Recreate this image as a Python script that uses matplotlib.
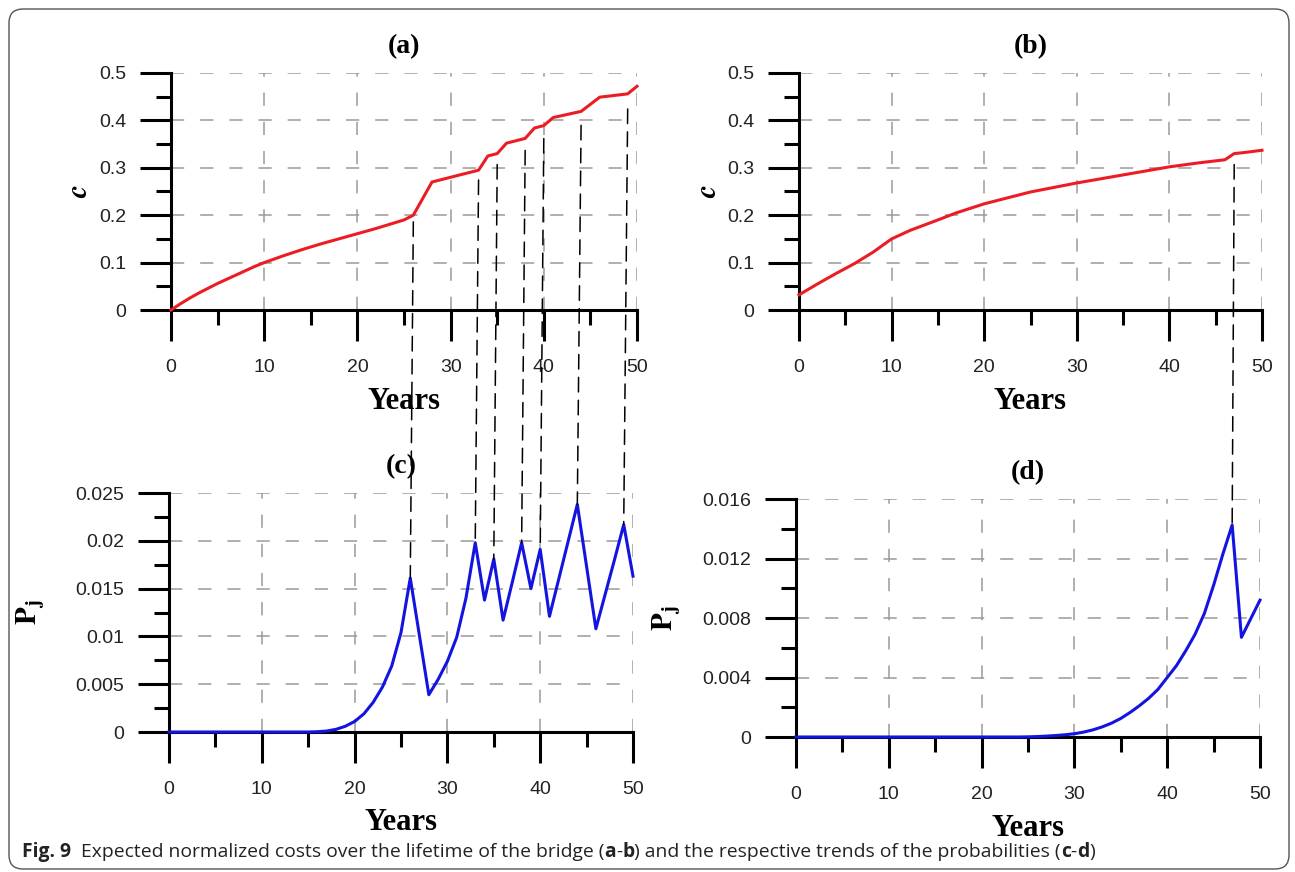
import numpy as np
import matplotlib
matplotlib.use("Agg")
import matplotlib.pyplot as plt
from matplotlib import ticker
from matplotlib.patches import ConnectionPatch, FancyBboxPatch
from matplotlib.transforms import IdentityTransform

# ---- data ----
years_a = [0, 1, 2, 3, 4, 5, 6, 7, 8, 9, 10, 12, 14, 16, 18, 20, 22, 24, 25, 26,
           28, 30, 33, 34, 35, 36, 38, 39, 40, 41, 44, 46, 49, 50]
cost_a = [0, 0.013, 0.025, 0.036, 0.046, 0.056, 0.065, 0.074, 0.083, 0.092, 0.1,
          0.114, 0.127, 0.139, 0.150, 0.161, 0.172, 0.184, 0.19, 0.2,
          0.27, 0.28, 0.295, 0.325, 0.33, 0.352, 0.362, 0.384, 0.389, 0.406,
          0.419, 0.449, 0.456, 0.472]

years_b = [0, 2, 4, 6, 8, 10, 12, 15, 17, 20, 25, 30, 35, 40, 43, 46, 47, 48, 50]
cost_b = [0.032, 0.055, 0.077, 0.098, 0.122, 0.15, 0.168, 0.19, 0.205, 0.224,
          0.249, 0.268, 0.285, 0.302, 0.31, 0.317, 0.33, 0.332, 0.337]

years_c = list(range(0, 27)) + list(range(28, 51))
prob_c = [0] * 16 + [0.00003, 0.0001, 0.00028, 0.0006, 0.0011, 0.0019, 0.0031,
                     0.0047, 0.0069, 0.0104, 0.0161,
                     0.0039, 0.0055, 0.0074, 0.0099, 0.0140, 0.0198, 0.0138,
                     0.0181, 0.0117, 0.0157, 0.0198, 0.0150, 0.0191, 0.0121,
                     0.0160, 0.0199, 0.0238, 0.0173, 0.0108, 0.0144, 0.0180,
                     0.0217, 0.0163]

years_d = list(range(0, 49)) + [50]
prob_d = [0] * 25 + [0.00001, 0.00003, 0.00006, 0.0001, 0.00015, 0.00022,
                     0.00033, 0.00048, 0.00068, 0.00093, 0.00125, 0.00165,
                     0.0021, 0.0026, 0.0032, 0.0040, 0.0048, 0.0058, 0.0069,
                     0.0083, 0.0102, 0.0123, 0.01425, 0.0067, 0.0092]

# years where the maintenance actions happen (dashed black links)
links_ac = [26, 33, 35, 38, 40, 44, 49]
links_bd = [47]

plt.rcParams['lines.scale_dashes'] = False
plt.rcParams['mathtext.fontset'] = 'stix'

W, H = 1295, 872
fig = plt.figure(figsize=(W / 100, H / 100), dpi=100)


def px_axes(x0, x1, ytop, ybot):
    return fig.add_axes([x0 / W, (H - ybot) / H, (x1 - x0) / W, (ybot - ytop) / H])


def style(ax, ymax, ymaj, ymin, title, ylabel, ylab_x, xlab_y):
    ax.set_xlim(0, 50)
    ax.set_ylim(0, ymax)
    ax.spines['top'].set_visible(False)
    ax.spines['right'].set_visible(False)
    for s in ('left', 'bottom'):
        ax.spines[s].set_linewidth(2.2)
    ax.xaxis.set_major_locator(ticker.MultipleLocator(10))
    ax.xaxis.set_minor_locator(ticker.MultipleLocator(5))
    ax.yaxis.set_major_locator(ticker.MultipleLocator(ymaj))
    ax.yaxis.set_minor_locator(ticker.MultipleLocator(ymin))
    ax.yaxis.set_major_formatter(ticker.FuncFormatter(lambda v, _: f'{v:g}'))
    ax.tick_params(which='major', direction='out', length=22, width=2.2,
                   labelsize=14, labelcolor='#222222')
    ax.tick_params(which='minor', direction='out', length=11, width=2.2)
    ax.tick_params(axis='x', which='major', pad=13)
    ax.tick_params(axis='y', which='major', pad=10)
    for lab in ax.get_xticklabels() + ax.get_yticklabels():
        lab.set_family('Liberation Sans')
    ax.grid(True, which='major', color='#9a9a9a', linewidth=1.1,
            linestyle=(0, (9.5, 11.5)))
    ax.set_axisbelow(True)
    ax.set_title(title, fontsize=20, fontweight='bold',
                 family='Liberation Serif', pad=14)
    ax.set_xlabel('Years', fontsize=22, fontweight='bold',
                  family='Liberation Serif')
    ax.xaxis.set_label_coords(0.5, xlab_y)
    ax.set_ylabel(ylabel, fontsize=21)
    ax.yaxis.set_label_coords(ylab_x, 0.5)


ax_a = px_axes(171, 637, 73, 310)
ax_b = px_axes(799, 1262, 73, 310)
ax_c = px_axes(169, 633, 493, 732)
ax_d = px_axes(796, 1260, 499, 737)

red = '#ec1c24'
blue = '#1414e0'
ax_a.plot(years_a, cost_a, color=red, lw=2.2, clip_on=False, zorder=3)
ax_b.plot(years_b, cost_b, color=red, lw=2.2, clip_on=False, zorder=3)
ax_c.plot(years_c, prob_c, color=blue, lw=2.2, clip_on=False, zorder=3)
ax_d.plot(years_d, prob_d, color=blue, lw=2.2, clip_on=False, zorder=3)

style(ax_a, 0.5, 0.1, 0.05, '(a)', r'$\boldsymbol{c}$', -0.167, -0.325)
style(ax_b, 0.5, 0.1, 0.05, '(b)', r'$\boldsymbol{c}$', -0.166, -0.325)
style(ax_c, 0.025, 0.005, 0.0025, '(c)', r'$\mathbf{P_j}$', -0.265, -0.32)
style(ax_d, 0.016, 0.004, 0.002, '(d)', r'$\mathbf{P_j}$', -0.245, -0.325)

# dashed links between the cost jumps and the probability peaks
for axs, axp, xs, ys, xp, yp, yrs in [
        (ax_a, ax_c, years_a, cost_a, years_c, prob_c, links_ac),
        (ax_b, ax_d, years_b, cost_b, years_d, prob_d, links_bd)]:
    for yr in yrs:
        top = np.interp(yr, xs, ys) * 0.93
        bot = np.interp(yr, xp, yp)
        con = ConnectionPatch(xyA=(yr, top), coordsA=axs.transData,
                              xyB=(yr, bot), coordsB=axp.transData,
                              color='black', lw=1.1,
                              linestyle=(0, (10.5, 6)), zorder=10)
        fig.add_artist(con)

# outer rounded frame
frame = FancyBboxPatch((9, 3), 1280, 860, boxstyle='round,pad=0,rounding_size=14',
                       transform=IdentityTransform(), fill=False,
                       edgecolor='#555555', lw=1.0)
fig.add_artist(frame)

# caption with bold parts
pieces = [('Fig. 9', True), ('  Expected normalized costs over the lifetime of the bridge (', False),
          ('a', True), ('-', False), ('b', True),
          (') and the respective trends of the probabilities (', False),
          ('c', True), ('-', False), ('d', True), (')', False)]
fig.canvas.draw()
r = fig.canvas.get_renderer()
x = 22
for s, b in pieces:
    t = fig.text(x, H - 852, s, transform=IdentityTransform(), fontsize=13.9,
                 family='Open Sans', fontweight='bold' if b else 'normal',
                 va='center', ha='left', color='#222222')
    x += t.get_window_extent(r).width

fig.savefig('out.png', dpi=100)
